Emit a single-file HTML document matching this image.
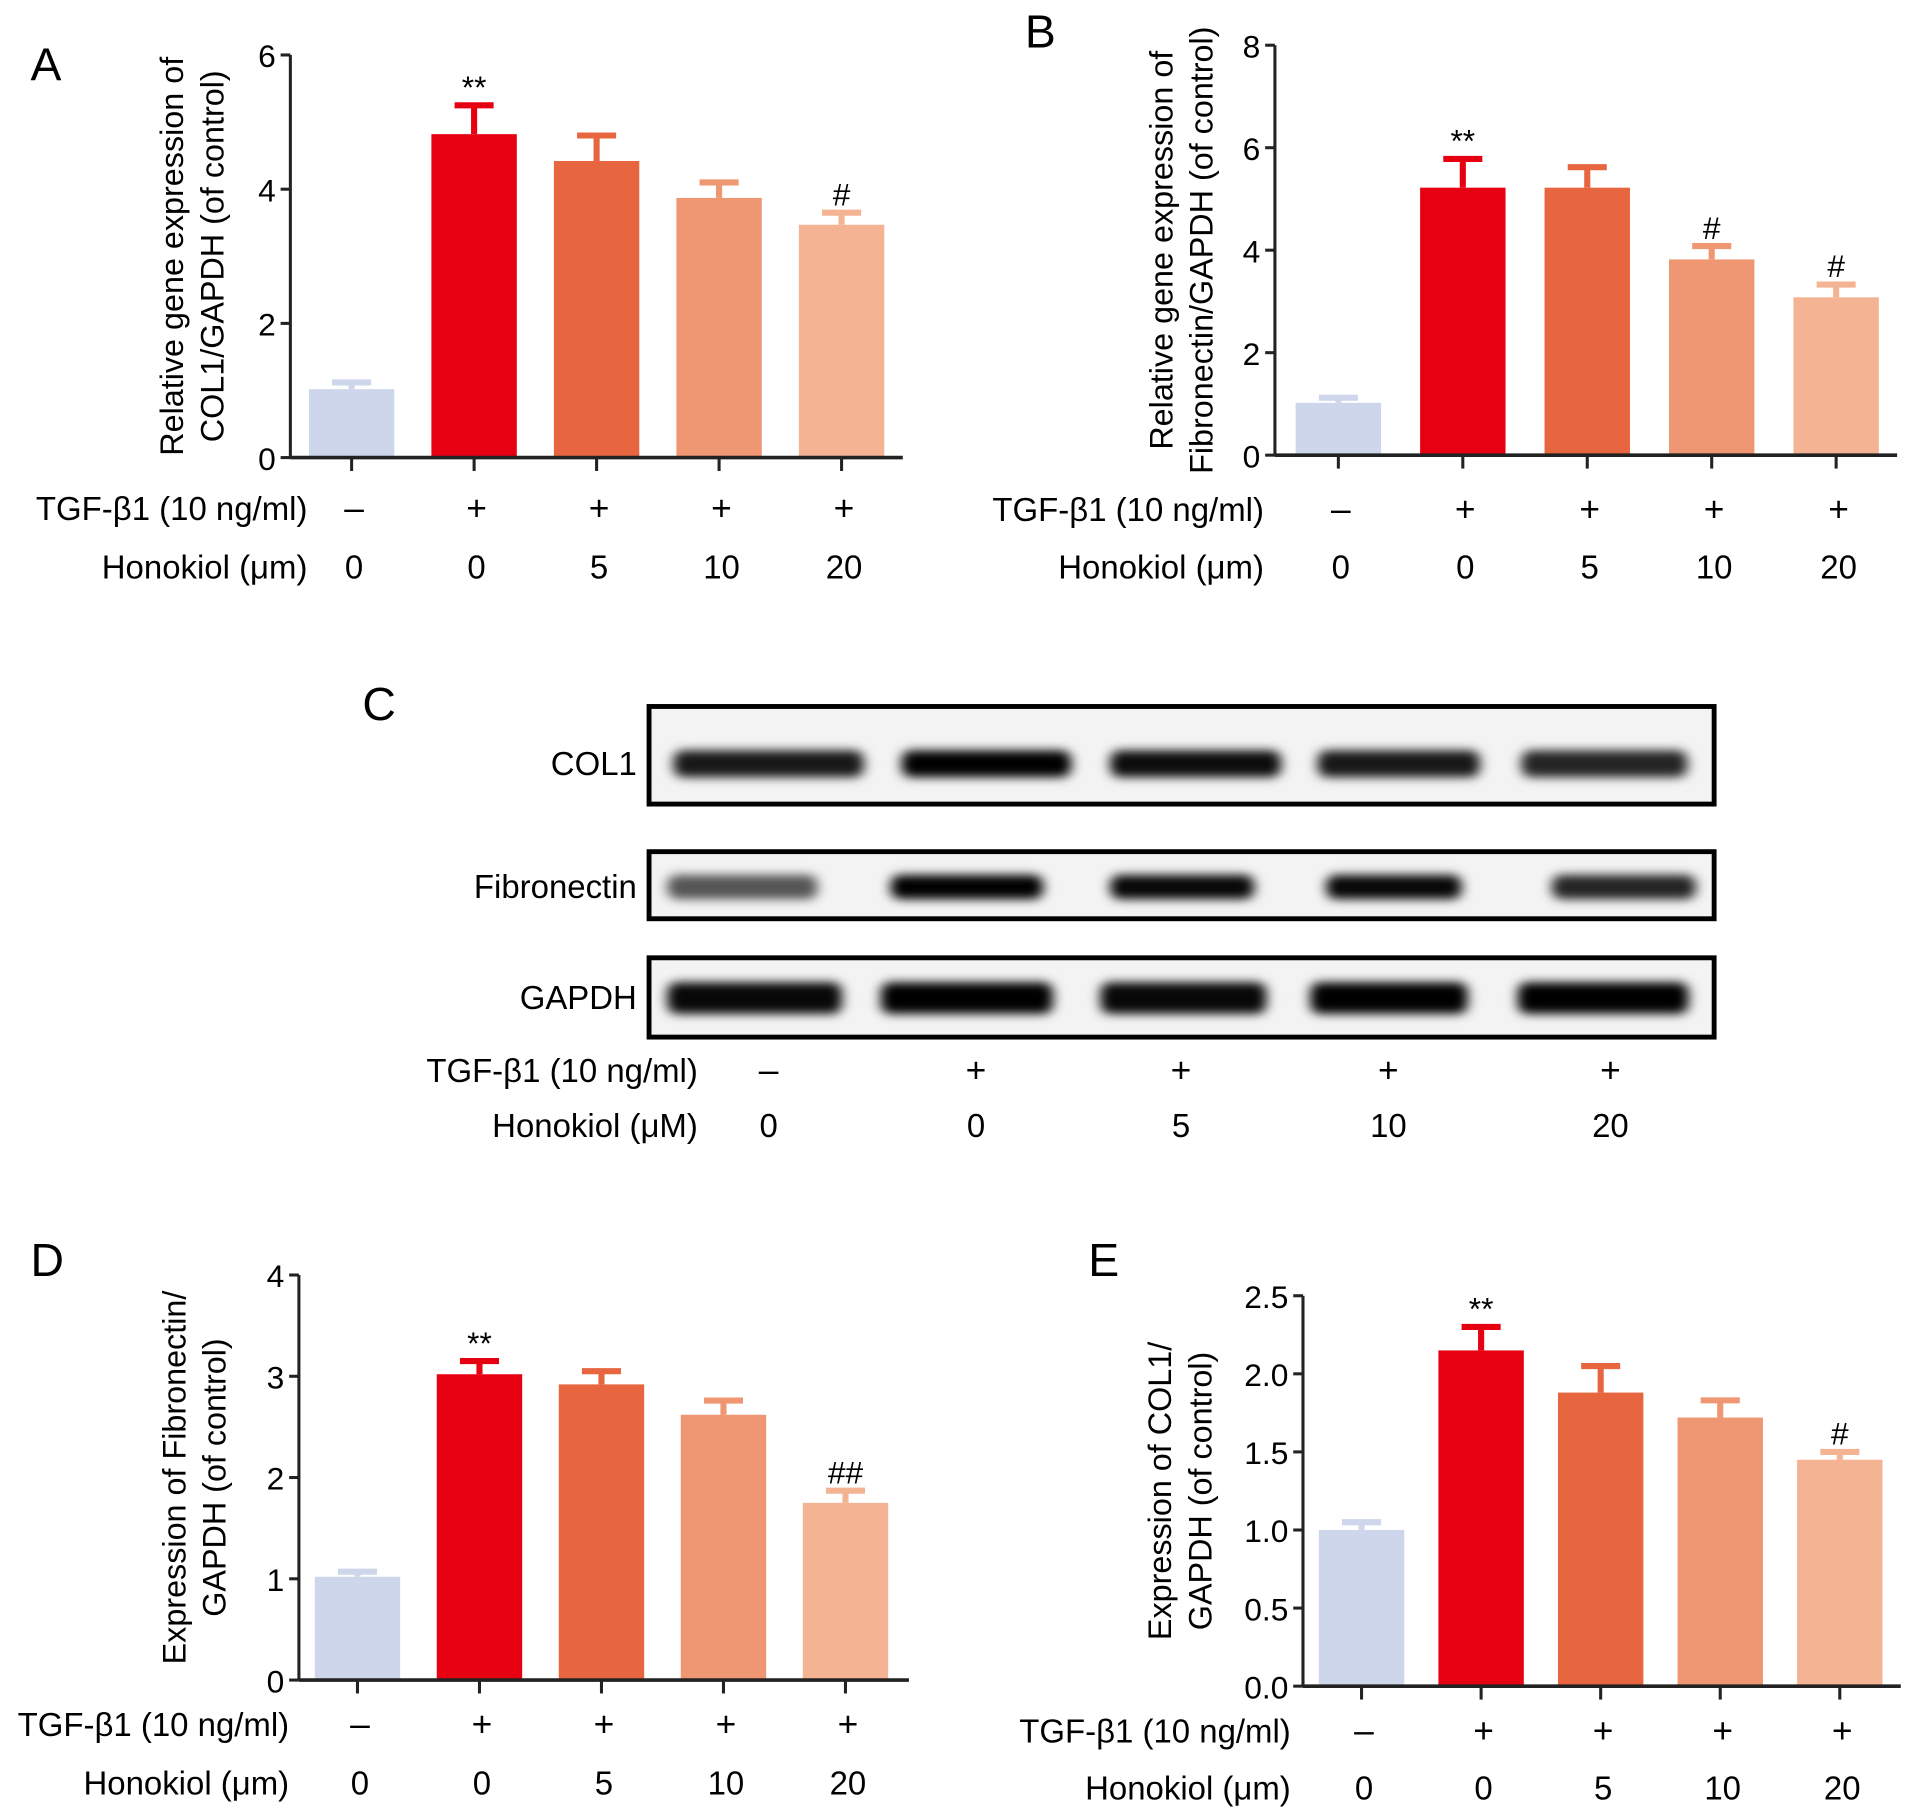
<!DOCTYPE html>
<html><head><meta charset="utf-8"><style>
html,body{margin:0;padding:0;background:#fff;}
svg{display:block;font-family:"Liberation Sans",sans-serif;}
</style></head><body>
<svg id="fig" width="1913" height="1818" viewBox="0 0 1568 1490" xmlns="http://www.w3.org/2000/svg">
<defs>
<filter id="blur" x="-20%" y="-100%" width="140%" height="300%"><feGaussianBlur stdDeviation="5 4"/></filter>
</defs>
</svg>
<script>
// ---- data ----
const colors = ["#cdd6ea","#e60012","#e8663f","#ef9672","#f4b393"];
const tgfLabels = ["\u2013","+","+","+","+"];
const honokiolLabels = ["0","0","5","10","20"];
const aValues = [1.02,4.82,4.42,3.87,3.47];
const aErrors = [0.10,0.43,0.38,0.23,0.18];
const aMarks = ["","**","","","#"];
const aTicks = [0,2,4,6];
const bValues = [1.02,5.22,5.22,3.82,3.08];
const bErrors = [0.10,0.56,0.40,0.26,0.25];
const bMarks = ["","**","","#","#"];
const bTicks = [0,2,4,6,8];
const dValues = [1.02,3.02,2.92,2.62,1.75];
const dErrors = [0.05,0.13,0.13,0.14,0.12];
const dMarks = ["","**","","","##"];
const dTicks = [0,1,2,3,4];
const eValues = [1.00,2.15,1.88,1.72,1.45];
const eErrors = [0.05,0.15,0.17,0.11,0.05];
const eMarks = ["","**","","","#"];
const eTicks = ["0.0","0.5","1.0","1.5","2.0","2.5"];
const blotRows = ["COL1","Fibronectin","GAPDH"];
const col1Intensity = [0.9,1.0,0.95,0.9,0.85];
const fnIntensity = [0.65,1.0,0.97,0.97,0.85];
const gapdhIntensity = [0.97,1.0,0.97,1.0,1.0];
const blotHonokiol = ["0","0","5","10","20"];

const NS="http://www.w3.org/2000/svg";
const svg=document.getElementById('fig');
function mk(tag,attrs,parent,text){const e=document.createElementNS(NS,tag);for(const k in attrs)e.setAttribute(k,attrs[k]);if(text!==undefined)e.textContent=text;(parent||svg).appendChild(e);return e;}

function chart(cfg){
  const g=mk('g',{});
  
  
  const tmax=parseFloat(cfg.ticks[cfg.ticks.length-1]);
  const y=v=>cfg.y0-(v/tmax)*(cfg.y0-cfg.ytop);
  const step=(cfg.xend-cfg.x0)/cfg.values.length;
  const xc=i=>cfg.x0+step*(i+0.5)+cfg.shift;
  cfg.values.forEach((v,i)=>{
    const c=colors[i];
    const eb=mk('path',{d:`M${xc(i)} ${y(v)} V${y(v+cfg.errors[i])} M${xc(i)-16} ${y(v+cfg.errors[i])} H${xc(i)+16}`,stroke:c,'stroke-width':5,fill:'none'},g);
    
    
    const r=mk('rect',{x:xc(i)-35,y:y(v),width:70,height:cfg.y0-y(v),fill:c},g);
    
    
    if(cfg.marks[i]){
      const t=mk('text',{x:xc(i),y:y(v+cfg.errors[i])-6,'font-size':26,'text-anchor':'middle'},g,cfg.marks[i]);
      
      
    }
    mk('line',{x1:xc(i),x2:xc(i),y1:cfg.y0,y2:cfg.y0+11,stroke:'#222','stroke-width':2.5},g);
    const t1=mk('text',{x:xc(i)+2,y:cfg.row1,'font-size':29,'text-anchor':'middle'},g,tgfLabels[i]);
    
    
    const t2=mk('text',{x:xc(i)+2,y:cfg.row2,'font-size':27,'text-anchor':'middle'},g,honokiolLabels[i]);
    
    
  });
  mk('line',{x1:cfg.x0,x2:cfg.x0,y1:cfg.ytop,y2:cfg.y0,stroke:'#222','stroke-width':2.5},g);
  mk('line',{x1:cfg.x0,x2:cfg.xend,y1:cfg.y0,y2:cfg.y0,stroke:'#222','stroke-width':3},g);
  cfg.ticks.forEach(tk=>{
    const yy=y(parseFloat(tk));
    mk('line',{x1:cfg.x0-8,x2:cfg.x0,y1:yy,y2:yy,stroke:'#222','stroke-width':2.5},g);
    const t=mk('text',{x:cfg.x0-12,y:yy+10,'font-size':26,'text-anchor':'end'},g,tk);
    
    
  });
  const a=mk('text',{x:cfg.labelX,y:cfg.row1,'font-size':27,'text-anchor':'end'},g,'TGF-\u03b21 (10 ng/ml)');
  
  
  const b=mk('text',{x:cfg.labelX,y:cfg.row2,'font-size':27,'text-anchor':'end'},g,'Honokiol (\u03bcm)');
  
  
  const cy=(cfg.ytop+cfg.y0)/2;
  cfg.title.forEach((line,k)=>{
    const tx=cfg.titleX+k*33;
    const t=mk('text',{x:tx,y:cy,'font-size':26.5,'text-anchor':'middle',transform:`rotate(-90 ${tx} ${cy})`},g,line);
    
    
  });
  const p=mk('text',{x:cfg.letter[0],y:cfg.letter[1],'font-size':38},g,cfg.letter[2]);
  
  
}

chart({name:'chart-a',values:aValues,errors:aErrors,marks:aMarks,ticks:aTicks,x0:238,xend:740,shift:0,ytop:45,y0:375,row1:426,row2:474,labelX:252,title:['Relative gene expression of','COL1/GAPDH (of control)'],titleX:150,letter:[25,66,'A']});
chart({name:'chart-b',values:bValues,errors:bErrors,marks:bMarks,ticks:bTicks,x0:1045,xend:1555,shift:1,ytop:37,y0:373,row1:427,row2:474,labelX:1036,title:['Relative gene expression of','Fibronectin/GAPDH (of control)'],titleX:961,letter:[840,39,'B']});
chart({name:'chart-d',values:dValues,errors:dErrors,marks:dMarks,ticks:dTicks,x0:245,xend:745,shift:-2,ytop:1045,y0:1377,row1:1423,row2:1471,labelX:237,title:['Expression of Fibronectin/','GAPDH (of control)'],titleX:152,letter:[25,1046,'D']});
chart({name:'chart-e',values:eValues,errors:eErrors,marks:eMarks,ticks:eTicks,x0:1068,xend:1558,shift:-1,ytop:1062,y0:1382,row1:1428,row2:1475,labelX:1058,title:['Expression of COL1/','GAPDH (of control)'],titleX:960,letter:[892,1046,'E']});

// ---- western blot ----
const wb=mk('g',{});


const pl=mk('text',{x:297,y:590,'font-size':38},wb,'C');


const boxes=[[579,80,col1Intensity,[[550,710],[737,880],[908,1052],[1078,1215],[1245,1385]],626,22],
             [698,55,fnIntensity,[[545,672],[728,857],[908,1030],[1085,1200],[1270,1392]],727,20],
             [785,65,gapdhIntensity,[[545,692],[720,865],[900,1040],[1072,1205],[1242,1386]],818,26]];
const laneX=[630,800,968,1138,1320];
boxes.forEach((bx,r)=>{
  const [top,h,inten,lanes,cy,bh]=bx;
  const bg=mk('rect',{x:532,y:top,width:873,height:h,fill:'#f3f3f3',stroke:'#000','stroke-width':4},wb);
  
  
  lanes.forEach((ln,i)=>{
    const band=mk('rect',{x:ln[0]+2,y:cy-bh/2,width:ln[1]-ln[0]-4,height:bh,rx:8,fill:'#000','fill-opacity':inten[i],filter:'url(#blur)'},wb);
    
    
  });
  const t=mk('text',{x:522,y:cy+9,'font-size':27,'text-anchor':'end'},wb,blotRows[r]);
  
  
});
laneX.forEach((x,i)=>{
  const a=mk('text',{x:x,y:887,'font-size':29,'text-anchor':'middle'},wb,tgfLabels[i]);
  
  
  const b=mk('text',{x:x,y:932,'font-size':27,'text-anchor':'middle'},wb,blotHonokiol[i]);
  
  
});
const r1=mk('text',{x:572,y:887,'font-size':27,'text-anchor':'end'},wb,'TGF-\u03b21 (10 ng/ml)');


const r2=mk('text',{x:572,y:932,'font-size':27,'text-anchor':'end'},wb,'Honokiol (\u03bcM)');


</script>
</body></html>
